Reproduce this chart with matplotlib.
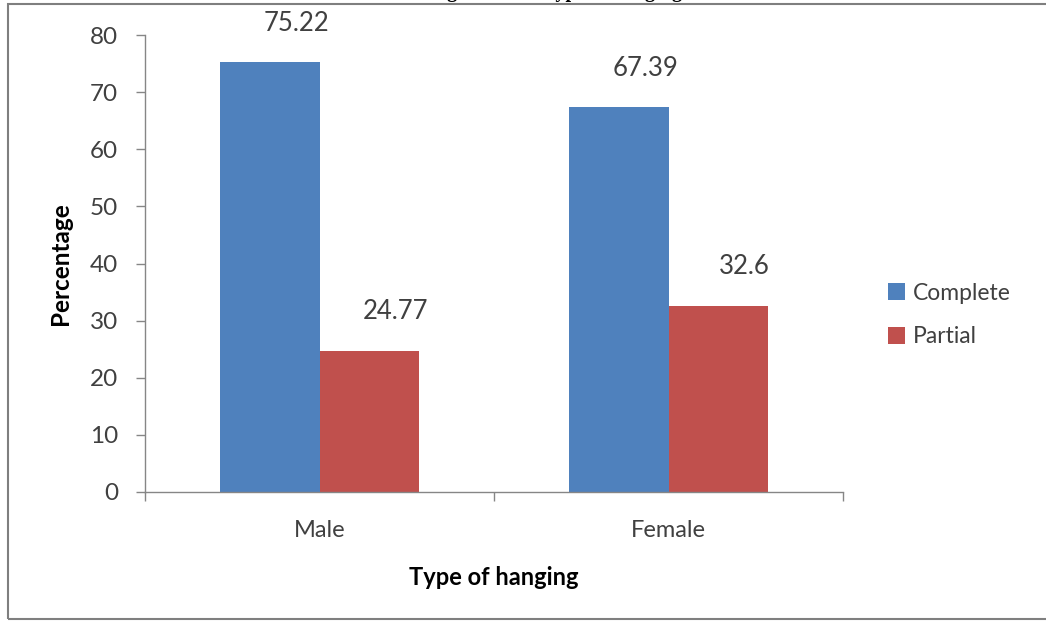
import numpy as np
import matplotlib.pyplot as plt
from matplotlib.patches import Rectangle

# data
groups = ['Male', 'Female']
complete = [75.22, 67.39]
partial = [24.77, 32.6]
series_names = ['Complete', 'Partial']
colors = ['#4F81BD', '#C0504D']

W, H = 1046, 621
fig = plt.figure(figsize=(W / 100, H / 100), dpi=100)
plt.rcParams['font.family'] = ['Lato', 'DejaVu Sans']

ax = fig.add_axes([145 / W, 1 - 492 / H, 698 / W, 457 / H])

x = np.arange(len(groups))
width = 0.284
bars_c = ax.bar(x - width / 2, complete, width, color=colors[0], label=series_names[0])
bars_p = ax.bar(x + width / 2, partial, width, color=colors[1], label=series_names[1])

# value labels above each bar, shifted slightly right
for bars, vals in [(bars_c, complete), (bars_p, partial)]:
    for b, v in zip(bars, vals):
        ax.annotate(f'{v:g}', (b.get_x() + b.get_width() / 2, v),
                    xytext=(19, 28), textcoords='offset points',
                    ha='center', va='center', fontsize=18.5, color='#404040')

ax.set_xlim(-0.5, 1.5)
ax.set_ylim(0, 80)
ax.set_yticks(np.arange(0, 81, 10))
ax.set_xticks(x)
ax.set_xticklabels(groups)
ax.set_xticks([-0.5, 0.5, 1.5], minor=True)

axis_gray = '#868686'
for s in ['top', 'right']:
    ax.spines[s].set_visible(False)
for s in ['left', 'bottom']:
    ax.spines[s].set_color(axis_gray)
    ax.spines[s].set_linewidth(1.0)

ax.tick_params(axis='y', direction='out', length=6.5, width=1.0, color=axis_gray,
               labelsize=17.5, labelcolor='#404040', pad=13)
ax.tick_params(axis='x', which='major', length=0, labelsize=17, labelcolor='#404040', pad=20)
ax.tick_params(axis='x', which='minor', direction='out', length=6.5, width=1.0, color=axis_gray)

ax.set_ylabel('Percentage', fontsize=17.5, fontweight='bold', color='black')
ax.yaxis.set_label_coords(-0.105, 0.5)
ax.set_xlabel('Type of hanging', fontsize=17, fontweight='bold', color='black', labelpad=18)

ax.legend(loc='center left', bbox_to_anchor=(888 / W, 1 - 315 / H),
          bbox_transform=fig.transFigure, frameon=False, fontsize=16.5,
          handlelength=0.72, handleheight=0.72, handletextpad=0.35,
          labelspacing=1.0, borderpad=0, borderaxespad=0, labelcolor='#404040')

# outer frame
fig.add_artist(Rectangle((8 / W, 2 / H), 1.2, (H - 6) / H, transform=fig.transFigure,
                         fill=False, edgecolor='#7f7f7f', linewidth=1.5, clip_on=False))

# title line, mostly above the top edge
fig.text(682 / W, 1 + 2.5 / H, 'Distribution of gender and type of hanging',
         ha='right', va='baseline', fontsize=14.5, fontweight='bold',
         family='Liberation Serif', color='black')

fig.savefig('out.png', dpi=100, facecolor='white')
